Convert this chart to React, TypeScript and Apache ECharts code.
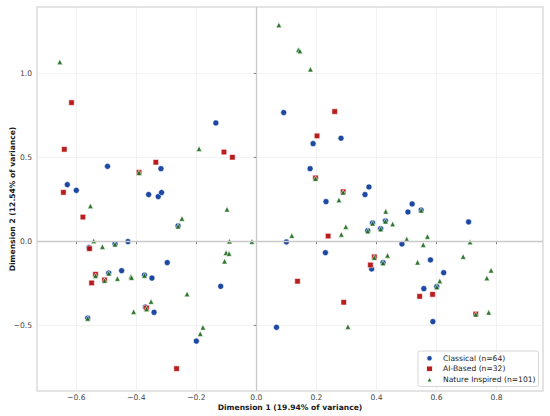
import React, { useEffect, useRef } from "react";
import * as echarts from "echarts";

const seriesNames = ["Classical (n=64)", "AI-Based (n=32)", "Nature Inspired (n=101)"];
const xTickValues = [-0.6, -0.4, -0.2, 0.0, 0.2, 0.4, 0.6, 0.8];
const yTickValues = [-0.5, 0.0, 0.5, 1.0];

const classicalPts = [
  [-0.63, 0.339], [-0.6, 0.305], [-0.496, 0.448], [-0.318, 0.434], [-0.359, 0.28], [-0.327, 0.268],
  [-0.316, 0.292], [-0.135, 0.706], [0.091, 0.768], [0.189, 0.583], [0.282, 0.615], [0.179, 0.434],
  [0.232, 0.238], [0.375, 0.325], [0.362, 0.28], [0.519, 0.224], [0.505, 0.176], [0.549, 0.188],
  [0.43, 0.123], [0.387, 0.111], [0.414, 0.077], [0.371, 0.065], [0.1, -0.002], [0.23, -0.066],
  [0.707, 0.117], [0.485, -0.014], [0.384, -0.163], [0.422, -0.125], [0.58, -0.109], [0.624, -0.185],
  [0.601, -0.268], [0.558, -0.28], [0.588, -0.476], [0.067, -0.51], [-0.261, 0.093], [-0.558, -0.036],
  [-0.471, -0.014], [-0.428, 0.0], [-0.297, -0.125], [-0.449, -0.173], [-0.492, -0.187], [-0.373, -0.199],
  [-0.348, -0.217], [-0.119, -0.266], [-0.37, -0.389], [-0.341, -0.421], [-0.562, -0.455], [-0.2, -0.592],
];

const aiPts = [
  [-0.616, 0.827], [-0.64, 0.549], [-0.643, 0.293], [-0.391, 0.412], [-0.335, 0.472], [-0.108, 0.533],
  [-0.08, 0.502], [0.261, 0.774], [0.202, 0.629], [0.197, 0.379], [0.289, 0.297], [0.239, 0.033],
  [0.393, -0.091], [0.38, -0.139], [0.544, -0.326], [0.587, -0.314], [0.731, -0.431], [0.137, -0.236],
  [0.291, -0.361], [-0.578, 0.146], [-0.556, -0.042], [-0.536, -0.195], [-0.549, -0.246], [-0.506, -0.228],
  [-0.366, -0.395], [-0.266, -0.756],
];

const naturePts = [
  [-0.655, 1.069], [-0.391, 0.41], [-0.553, 0.212], [-0.191, 0.553], [-0.098, 0.192], [0.075, 1.289],
  [0.14, 1.141], [0.145, 1.134], [0.18, 1.026], [0.197, 0.375], [0.289, 0.293], [0.275, 0.248],
  [0.549, 0.186], [0.431, 0.18], [0.43, 0.121], [0.454, 0.105], [0.387, 0.109], [0.414, 0.075],
  [0.371, 0.063], [0.298, 0.089], [0.283, 0.043], [0.118, 0.036], [0.501, 0.015], [0.57, 0.03],
  [0.556, -0.018], [0.712, -0.002], [0.393, -0.095], [0.437, -0.082], [0.422, -0.127], [0.537, -0.123],
  [0.689, -0.089], [0.611, -0.234], [0.601, -0.27], [0.782, -0.171], [0.768, -0.217], [0.731, -0.433],
  [0.774, -0.421], [0.305, -0.506], [-0.248, 0.137], [-0.261, 0.091], [-0.542, 0.004], [-0.513, -0.03],
  [-0.471, -0.016], [-0.09, 0.002], [-0.015, 0.0], [-0.101, -0.066], [-0.091, -0.071], [-0.106, -0.117],
  [-0.492, -0.189], [-0.536, -0.203], [-0.506, -0.232], [-0.463, -0.22], [-0.418, -0.207], [-0.416, -0.214],
  [-0.373, -0.201], [-0.231, -0.312], [-0.351, -0.357], [-0.366, -0.401], [-0.409, -0.417], [-0.562, -0.457],
  [-0.178, -0.51], [-0.187, -0.548],
];

const FONT = "DejaVu Sans";
const FS = 7.6;
const fmt = (v: number) => {
  const s = (Math.abs(v) < 1e-9 ? 0 : v).toFixed(1);
  return s.replace("-", "\u2212");
};

export default function App() {
  const ref = useRef<HTMLDivElement>(null);
  useEffect(() => {
    if (!ref.current) return;
    const chart = echarts.init(ref.current, undefined, { renderer: "svg" });
    const ptStyle = (color: string) => ({
      color,
      opacity: 0.92,
      borderColor: "#ffffff",
      borderWidth: 0.6,
    });
    chart.setOption({
      animation: false,
      backgroundColor: "#ffffff",
      grid: {
        left: 37,
        right: 7,
        top: 7,
        bottom: 25,
        outerBoundsMode: "none",
        containLabel: false,
        show: true,
        borderColor: "#dcdcdc",
        borderWidth: 1.5,
        backgroundColor: "#ffffff",
      },
      xAxis: {
        type: "value",
        min: -0.731,
        max: 0.955,
        splitNumber: 8,
        name: "Dimension 1 (19.94% of variance)",
        nameLocation: "middle",
        nameGap: 12,
        nameMoveOverlap: false,
        nameTextStyle: { fontFamily: FONT, fontSize: FS, fontWeight: "bold", color: "#1a1a1a" },
        axisLine: { show: false },
        axisTick: { show: true, length: 2.5, lineStyle: { color: "#555", width: 0.8 }, customValues: xTickValues },
        axisLabel: {
          fontFamily: FONT,
          fontSize: FS,
          color: "#444",
          margin: 2,
          hideOverlap: false,
          customValues: xTickValues,
          formatter: (v: number) => fmt(v),
        },
        splitLine: { show: true, lineStyle: { color: "#ececec", width: 0.7 } },
      },
      yAxis: {
        type: "value",
        min: -0.889,
        max: 1.396,
        splitNumber: 5,
        name: "Dimension 2 (12.54% of variance)",
        nameLocation: "middle",
        nameGap: 21,
        nameMoveOverlap: false,
        nameTextStyle: { fontFamily: FONT, fontSize: FS, fontWeight: "bold", color: "#1a1a1a" },
        axisLine: { show: false },
        axisTick: { show: true, length: 2.5, lineStyle: { color: "#555", width: 0.8 }, customValues: yTickValues },
        axisLabel: {
          fontFamily: FONT,
          fontSize: FS,
          color: "#444",
          margin: 5,
          hideOverlap: false,
          customValues: yTickValues,
          formatter: (v: number) => fmt(v),
        },
        splitLine: { show: true, lineStyle: { color: "#ececec", width: 0.7 } },
      },
      legend: {
        show: true,
        data: [
          { name: seriesNames[0], icon: "circle" },
          { name: seriesNames[1], icon: "rect" },
          { name: seriesNames[2], icon: "triangle" },
        ],
        orient: "vertical",
        left: 418,
        top: 351,
        padding: [3, 3, 3, 7],
        itemWidth: 7,
        itemHeight: 6.5,
        itemGap: 2,
        backgroundColor: "#ffffff",
        borderColor: "#cccccc",
        borderWidth: 0.8,
        borderRadius: 2,
        textStyle: { fontFamily: FONT, fontSize: FS, color: "#222", padding: [0, 0, 0, 5] },
      },
      series: [
        {
          type: "scatter",
          name: "zero-lines",
          data: [],
          z: 1,
          silent: true,
          markLine: {
            silent: true,
            symbol: "none",
            label: { show: false },
            lineStyle: { color: "#c9c9c9", width: 1.3, type: "solid" },
            data: [{ xAxis: 0 }, { yAxis: 0 }],
          },
        },
        {
          type: "scatter",
          name: seriesNames[0],
          data: classicalPts,
          symbol: "circle",
          symbolSize: 6,
          z: 2,
          itemStyle: ptStyle("#0b3a9b"),
        },
        {
          type: "scatter",
          name: seriesNames[1],
          data: aiPts,
          symbol: "rect",
          symbolSize: 5.5,
          z: 3,
          itemStyle: ptStyle("#b40a0a"),
        },
        {
          type: "scatter",
          name: seriesNames[2],
          data: naturePts,
          symbol: "triangle",
          symbolSize: 5.5,
          z: 4,
          itemStyle: ptStyle("#1c6b1c"),
        },
      ],
    });
    return () => chart.dispose();
  }, []);
  return (
    <div
      ref={ref}
      style={{ position: "absolute", left: 0, top: 0, width: 550, height: 416 }}
    />
  );
}
